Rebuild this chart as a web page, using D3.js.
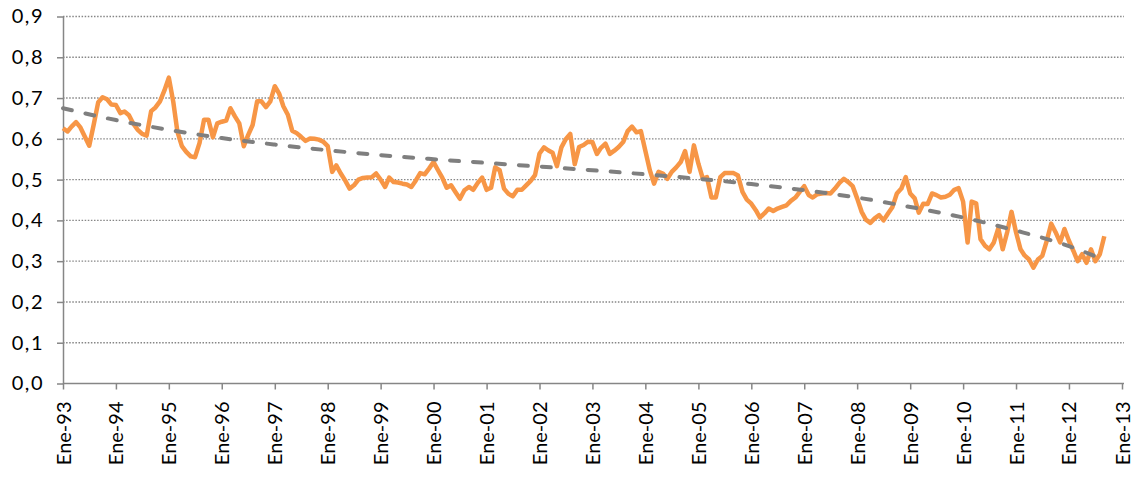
<!DOCTYPE html>
<meta charset="utf-8">
<style>
    body { margin: 0; background: #fff; }
    text {
        font-family: Lato, "Open Sans", sans-serif;
        fill: #000;
    }
    .axis path, .axis line {
        stroke: #868686;
        stroke-width: 1.5px;
    }
    .grid line {
        stroke: #868686;
        stroke-width: 1.4px;
        stroke-dasharray: 1.5, 1.6;
    }
    .serie {
        fill: none;
        stroke: #f79646;
        stroke-width: 4.5px;
        stroke-linejoin: round;
    }
    .trend {
        fill: none;
        stroke: #7f7f7f;
        stroke-width: 4px;
        stroke-linecap: round;
        stroke-dasharray: 9, 14;
    }
</style>
<body>
    <svg width="1140" height="477"></svg>
</body>
<script src="https://d3js.org/d3.v7.min.js"></script>
<script>

    // monthly values, Ene-93 .. Sep-12
    var startMonth = new Date(1993, 0, 1);
    var valores = [
        0.626, 0.618, 0.630, 0.641, 0.628, 0.605, 0.583, 0.635, 0.690, 0.702, 0.697, 0.684,
        0.683, 0.663, 0.667, 0.658, 0.637, 0.622, 0.612, 0.608, 0.668, 0.677, 0.692, 0.718,
        0.750, 0.690, 0.618, 0.582, 0.568, 0.557, 0.555, 0.590, 0.647, 0.647, 0.604, 0.638,
        0.642, 0.645, 0.675, 0.655, 0.638, 0.582, 0.609, 0.634, 0.692, 0.692, 0.678, 0.692,
        0.729, 0.710, 0.680, 0.659, 0.620, 0.614, 0.605, 0.595, 0.601, 0.600, 0.598, 0.593,
        0.582, 0.519, 0.535, 0.515, 0.498, 0.478, 0.486, 0.500, 0.504, 0.505, 0.506, 0.515,
        0.500, 0.482, 0.505, 0.494, 0.493, 0.490, 0.488, 0.482, 0.498, 0.516, 0.513, 0.527,
        0.543, 0.523, 0.505, 0.480, 0.486, 0.469, 0.453, 0.474, 0.482, 0.475, 0.492, 0.505,
        0.475, 0.480, 0.530, 0.523, 0.478, 0.465, 0.459, 0.475, 0.475, 0.486, 0.497, 0.511,
        0.564, 0.579, 0.572, 0.566, 0.533, 0.579, 0.599, 0.612, 0.538, 0.580, 0.585, 0.593,
        0.592, 0.563, 0.578, 0.588, 0.563, 0.571, 0.580, 0.592, 0.619, 0.630, 0.616, 0.619,
        0.571, 0.523, 0.490, 0.519, 0.515, 0.502, 0.519, 0.530, 0.543, 0.570, 0.519, 0.584,
        0.539, 0.502, 0.506, 0.456, 0.456, 0.506, 0.516, 0.516, 0.516, 0.510, 0.470, 0.451,
        0.441, 0.425, 0.407, 0.417, 0.429, 0.423, 0.429, 0.433, 0.437, 0.448, 0.456, 0.470,
        0.484, 0.462, 0.456, 0.464, 0.466, 0.467, 0.466, 0.478, 0.492, 0.502, 0.494, 0.484,
        0.454, 0.421, 0.402, 0.394, 0.405, 0.413, 0.400, 0.417, 0.433, 0.466, 0.478, 0.506,
        0.466, 0.454, 0.419, 0.441, 0.440, 0.466, 0.462, 0.456, 0.458, 0.463, 0.475, 0.479,
        0.446, 0.346, 0.446, 0.442, 0.354, 0.338, 0.329, 0.346, 0.381, 0.329, 0.371, 0.421,
        0.371, 0.329, 0.314, 0.304, 0.284, 0.304, 0.313, 0.350, 0.392, 0.371, 0.346, 0.379,
        0.350, 0.325, 0.300, 0.317, 0.296, 0.329, 0.300, 0.317, 0.361
    ];

    // trend line (month index from Ene-93)
    var trendMonths = [0, 12, 24, 36, 48, 60, 72, 84, 96, 108, 120, 132, 144, 156, 168, 180, 192, 204, 216, 228, 236];
    var trendValues = [0.675, 0.646, 0.622, 0.602, 0.586, 0.572, 0.560, 0.550, 0.541, 0.532, 0.523,
                       0.513, 0.502, 0.489, 0.474, 0.456, 0.433, 0.407, 0.375, 0.337, 0.303];

    var yTicks = [0, 0.1, 0.2, 0.3, 0.4, 0.5, 0.6, 0.7, 0.8, 0.9];
    var xStart = new Date(1993, 0, 1), xEnd = new Date(2013, 0, 1);

    var svg = d3.select("svg"),
        margin = {top: 16.5, left: 63, right: 18, bottom: 93.5},
        width = +svg.attr("width") - margin.left - margin.right,
        height = +svg.attr("height") - margin.top - margin.bottom,
        g = svg.append("g").attr("transform", "translate(" + margin.left + "," + margin.top + ")");

    var es = d3.formatLocale({decimal: ",", thousands: ".", grouping: [3], currency: ["", "€"]});

    var x = d3.scaleTime().domain([xStart, xEnd]).range([0, 1059]);
    var y = d3.scaleLinear().domain([0, 0.9]).range([height, 0]);

    var monthDate = function (i) { return d3.timeMonth.offset(startMonth, i); };

    // dotted grid
    g.append("g")
        .attr("class", "grid")
        .selectAll("line")
        .data(yTicks.slice(1))
        .enter().append("line")
        .attr("x1", 0)
        .attr("x2", x(xEnd) + 2)
        .attr("y1", function (d) { return y(d); })
        .attr("y2", function (d) { return y(d); });

    // y axis
    var yAxis = g.append("g")
        .attr("class", "axis")
        .call(d3.axisLeft(y).tickValues(yTicks).tickSize(6).tickSizeOuter(0).tickFormat(es.format(".1f")));
    yAxis.selectAll("text")
        .attr("x", -19)
        .style("font-size", "20px")
        .style("letter-spacing", "1.5px");

    // x axis
    var xAxis = g.append("g")
        .attr("class", "axis")
        .attr("transform", "translate(0," + height + ")")
        .call(d3.axisBottom(x)
            .ticks(d3.timeYear.every(1))
            .tickSize(6)
            .tickSizeOuter(0)
            .tickFormat(function (d) { return "Ene-" + d3.timeFormat("%y")(d); }));
    xAxis.selectAll("text")
        .attr("transform", "rotate(-90)")
        .attr("x", -18)
        .attr("y", 0)
        .attr("dy", "0.35em")
        .style("text-anchor", "end")
        .style("font-size", "20px");
    xAxis.selectAll(".domain").attr("d", "M0,0H" + (x(xEnd) + 2));

    // series
    var line = d3.line()
        .x(function (d, i) { return x(monthDate(i)); })
        .y(function (d) { return y(d); });

    g.append("path")
        .datum(valores)
        .attr("class", "serie")
        .attr("d", line);

    var trendLine = d3.line()
        .curve(d3.curveMonotoneX)
        .x(function (d, i) { return x(monthDate(trendMonths[i])); })
        .y(function (d) { return y(d); });

    g.append("path")
        .datum(trendValues)
        .attr("class", "trend")
        .attr("d", trendLine);

</script>
